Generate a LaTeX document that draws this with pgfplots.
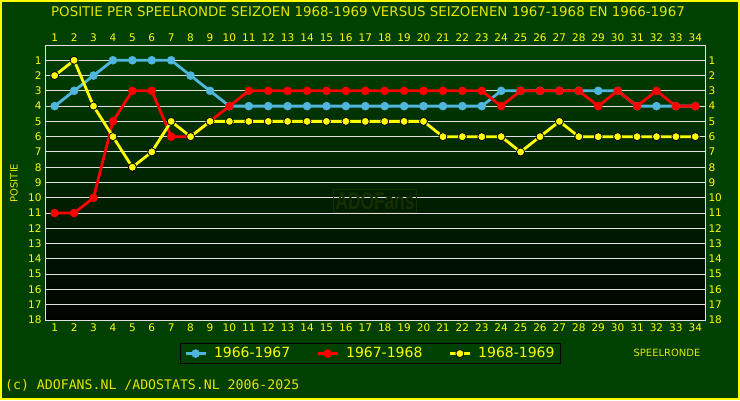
\documentclass[border=0pt]{standalone}
\usepackage{fontspec}
\setmainfont{DejaVu Sans}
\newfontfamily\monofont{DejaVu Sans Mono}
\newfontfamily\wmfont{Liberation Sans}
\usepackage{pgfplots}
\pgfplotsset{compat=1.18}
\definecolor{bg}{RGB}{0,64,0}
\definecolor{bgtop}{RGB}{0,66,0}
\definecolor{bgbot}{RGB}{0,4,0}
\definecolor{ylw}{RGB}{255,255,0}
\definecolor{ttl}{RGB}{230,230,0}
\definecolor{gridc}{RGB}{225,225,225}
\definecolor{c66}{RGB}{80,182,222}
\definecolor{c67}{RGB}{255,0,0}
\definecolor{c68}{RGB}{255,255,0}
\definecolor{wm}{RGB}{22,46,0}
\pgfplotsset{
  common/.style={
    at={(45pt,80pt)}, anchor=south west,
    width=660pt, height=275pt, scale only axis,
    xmin=0.5, xmax=34.5, ymin=0, ymax=18, y dir=reverse,
    xtick={1,...,34}, ytick={1,...,18},
    major tick length=0pt,
    tick label style={font=\fontsize{10.5}{10.5}\selectfont, text=ylw},
    /pgf/number format/assume math mode=true,
    axis line style={draw=gridc, line width=0.9pt},
  }
}
\begin{document}
\begin{tikzpicture}[x=1pt,y=1pt]
\path[use as bounding box] (0pt,0pt) rectangle (740pt,400pt);
\fill[bg] (0pt,0pt) rectangle (740pt,400pt);
\draw[ylw, line width=2pt] (1pt,1pt) rectangle (739pt,399pt);
\begin{axis}[common,
  xticklabel pos=lower, yticklabel pos=left,
  axis background/.style={top color=bgtop, bottom color=bgbot},
  ymajorgrids, grid style={draw=gridc, line width=0.9pt},
  legend style={at={(0.493,-0.122)}, anchor=center, draw=black, fill=bg,
    line width=1pt, legend columns=3,
    font=\fontsize{14}{14}\selectfont, text=ylw,
    /tikz/every odd column/.append style={column sep=5pt},
    /tikz/every even column/.append style={column sep=24pt},
    inner xsep=4pt, inner ysep=2pt},
  legend image code/.code={\draw[mark repeat=2,mark phase=2,#1] plot coordinates {(0pt,0pt) (10pt,0pt) (20pt,0pt)};},
]
\node[draw=wm, line width=1pt, text=wm, font=\wmfont\bfseries\fontsize{24}{24}\selectfont, xscale=0.72, inner sep=3pt] at (axis cs:17.5,10.2) {ADOFans};
\addplot[c66, line width=2.8pt, mark=*, mark size=4pt, mark options={fill=c66, draw=c66, line width=0.5pt}] coordinates {
(1,4)(2,3)(3,2)(4,1)(5,1)(6,1)(7,1)(8,2)(9,3)(10,4)(11,4)(12,4)(13,4)(14,4)(15,4)(16,4)(17,4)
(18,4)(19,4)(20,4)(21,4)(22,4)(23,4)(24,3)(25,3)(26,3)(27,3)(28,3)(29,3)(30,3)(31,4)(32,4)(33,4)(34,4)};
\addlegendentry{1966-1967}
\addplot[c67, line width=2.8pt, mark=*, mark size=4pt, mark options={fill=c67, draw=c67, line width=0.5pt}] coordinates {
(1,11)(2,11)(3,10)(4,5)(5,3)(6,3)(7,6)(8,6)(9,5)(10,4)(11,3)(12,3)(13,3)(14,3)(15,3)(16,3)(17,3)
(18,3)(19,3)(20,3)(21,3)(22,3)(23,3)(24,4)(25,3)(26,3)(27,3)(28,3)(29,4)(30,3)(31,4)(32,3)(33,4)(34,4)};
\addlegendentry{1967-1968}
\addplot[c68, line width=2.8pt, mark=*, mark size=4pt, mark options={fill=c68, draw=black, line width=0.8pt}] coordinates {
(1,2)(2,1)(3,4)(4,6)(5,8)(6,7)(7,5)(8,6)(9,5)(10,5)(11,5)(12,5)(13,5)(14,5)(15,5)(16,5)(17,5)
(18,5)(19,5)(20,5)(21,6)(22,6)(23,6)(24,6)(25,7)(26,6)(27,5)(28,6)(29,6)(30,6)(31,6)(32,6)(33,6)(34,6)};
\addlegendentry{1968-1969}
\end{axis}
\begin{axis}[common, xticklabel pos=upper, yticklabel pos=right]
\end{axis}
\node[text=ttl, font=\fontsize{13.4}{13.4}\selectfont, anchor=base] at (368pt,383pt) {POSITIE PER SPEELRONDE SEIZOEN 1968-1969 VERSUS SEIZOENEN 1967-1968 EN 1966-1967};
\node[text=ttl, font=\fontsize{10}{10}\selectfont, rotate=90] at (14pt,217pt) {POSITIE};
\node[text=ttl, font=\fontsize{10}{10}\selectfont] at (667pt,47pt) {SPEELRONDE};
\node[text=ttl, font=\monofont\fontsize{13.2}{13.2}\selectfont, anchor=base west, inner sep=0pt] at (5pt,11pt) {(c) ADOFANS.NL /ADOSTATS.NL 2006-2025};
\end{tikzpicture}
\end{document}
